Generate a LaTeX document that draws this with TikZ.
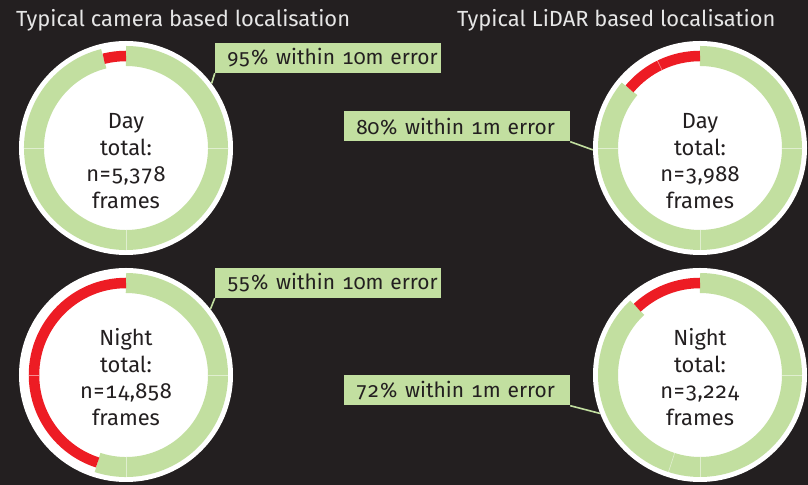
\documentclass[tikz,border=0pt]{standalone}
\usepackage{fontspec}
\setmainfont{Fira Sans}[Numbers={OldStyle,Monospaced}]
\definecolor{bg}{HTML}{231F20}
\definecolor{ringgreen}{HTML}{C2DFA0}
\definecolor{ringred}{HTML}{ED1C24}
\definecolor{titlegray}{HTML}{E6E6E6}
\begin{document}
\begin{tikzpicture}[x=1bp,y=1bp,
  ringdisk/.style={circle, fill=white, minimum size=214bp, inner sep=0pt},
  greenarc/.style={line width=20bp, ringgreen},
  redarc/.style={line width=10.5bp, ringred},
  ticklines/.style={white, line width=0.6bp, opacity=0.5},
  labelbox/.style={fill=ringgreen, text=bg, minimum height=30bp, text width=202bp,
    inner xsep=12bp, inner ysep=0pt, align=left, font=\fontsize{21}{24}\selectfont},
  centertext/.style={text=bg, align=center, font=\fontsize{22}{26.7}\selectfont},
  titletext/.style={text=titlegray, font=\fontsize{22}{24}\selectfont, inner sep=0pt, anchor=base west},
  connector/.style={ringgreen, line width=1.6bp}]
\fill[bg] (0,0) rectangle (808,485);
\useasboundingbox (0,0) rectangle (808,485);

% titles
\node[titletext] (t1) at (16,458) {Typical camera based localisation};
\node[titletext] (t2) at (457,458) {Typical LiDAR based localisation};

% camera day
\node[ringdisk] (cd) at (126,337) {};
\draw[greenarc] (cd.center) ++(104:92) arc[start angle=104, end angle=450, radius=92];
\draw[redarc] (cd.center) ++(90:92) arc[start angle=90, end angle=104, radius=92];
\foreach \a in {0,180,270} \draw[ticklines] (cd.center) ++(\a:82) -- ++(\a:20);
\node[centertext] (cdt) at (126,324) {Day\\total:\\n=5,378\\frames};

% camera night
\node[ringdisk] (cn) at (126,110) {};
\draw[greenarc] (cn.center) ++(-108:92) arc[start angle=-108, end angle=90, radius=92];
\draw[redarc] (cn.center) ++(90:92) arc[start angle=90, end angle=252, radius=92];
\foreach \a in {0,270} \draw[ticklines] (cn.center) ++(\a:82) -- ++(\a:20);
\draw[ticklines] (cn.center) ++(180:87) -- ++(180:10.5);
\node[centertext] (cnt) at (126,108) {Night\\total:\\n=14,858\\frames};

% lidar day
\node[ringdisk] (ld) at (700,337) {};
\draw[greenarc] (ld.center) ++(140:92) arc[start angle=140, end angle=450, radius=92];
\draw[redarc] (ld.center) ++(90:92) arc[start angle=90, end angle=140, radius=92];
\foreach \a in {0,180,270} \draw[ticklines] (ld.center) ++(\a:82) -- ++(\a:20);
\draw[ticklines] (ld.center) ++(116:87) -- ++(116:10.5);
\node[centertext] (ldt) at (700,324) {Day\\total:\\n=3,988\\frames};

% lidar night
\node[ringdisk] (ln) at (700,110) {};
\draw[greenarc] (ln.center) ++(133:92) arc[start angle=133, end angle=450, radius=92];
\draw[redarc] (ln.center) ++(90:92) arc[start angle=90, end angle=133, radius=92];
\foreach \a in {0,252,270} \draw[ticklines] (ln.center) ++(\a:82) -- ++(\a:20);
\node[centertext] (lnt) at (700,108) {Night\\total:\\n=3,224\\frames};

% label boxes
\node[labelbox] (b95) at (328,427) {\mbox{95\% within 10m error}};
\node[labelbox] (b55) at (328,202) {\mbox{55\% within 10m error}};
\node[labelbox] (b80) at (457,358.5) {\mbox{80\% within 1m error}};
\node[labelbox] (b72) at (457,94.5) {\mbox{72\% within 1m error}};

% connectors
\draw[connector] (b95.south west) -- (cd.37);
\draw[connector] (b55.south west) -- (cn.38);
\draw[connector] (b80.south east) -- (ld.181);
\draw[connector] (b72.south east) -- (ln.201);
\end{tikzpicture}
\end{document}
